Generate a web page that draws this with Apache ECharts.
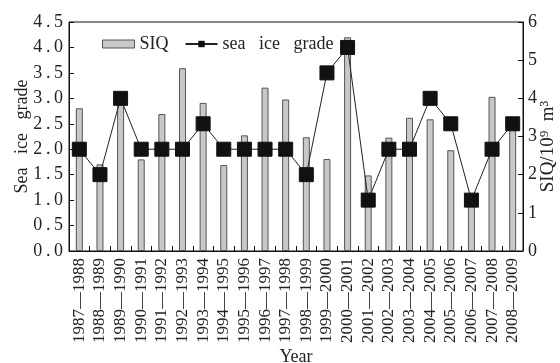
<!DOCTYPE html>
<html>
<head>
<meta charset="utf-8">
<script src="https://cdn.jsdelivr.net/npm/echarts@6/dist/echarts.min.js"></script>
<style>html,body{margin:0;padding:0;background:#fff}#c{width:560px;height:363px}</style>
</head>
<body>
<div id="c"></div>
<script>
const categories = ['1987—1988','1988—1989','1989—1990','1990—1991','1991—1992','1992—1993','1993—1994','1994—1995','1995—1996','1996—1997','1997—1998','1998—1999','1999—2000','2000—2001','2001—2002','2002—2003','2003—2004','2004—2005','2005—2006','2006—2007','2007—2008','2008—2009'];
const siq = [3.74, 2.27, 3.9, 2.4, 3.59, 4.79, 3.88, 2.25, 3.03, 4.28, 3.97, 2.98, 2.41, 5.6, 1.98, 2.97, 3.49, 3.45, 2.64, 1.3, 4.04, 3.3];
const seaIceGrade = [2.0, 1.5, 3.0, 2.0, 2.0, 2.0, 2.5, 2.0, 2.0, 2.0, 2.0, 1.5, 3.5, 4.0, 1.0, 2.0, 2.0, 3.0, 2.5, 1.0, 2.0, 2.5];

const FONT = '"Liberation Serif","DejaVu Serif",serif';
const wide = s => s.replace(/ /g, '   ');
const chart = echarts.init(document.getElementById('c'), null, {renderer: 'canvas'});
chart.setOption({
  animation: false,
  backgroundColor: '#fff',
  textStyle: {fontFamily: FONT, color: '#222'},
  grid: {left: 69, right: 37, top: 22, bottom: 112, show: true, borderColor: '#111', borderWidth: 1, backgroundColor: 'transparent', containLabel: false, outerBoundsMode: 'none'},
  legend: {
    left: 97, top: 30, itemGap: 16, itemWidth: 32, itemHeight: 8,
    textStyle: {fontFamily: FONT, fontSize: 18, color: '#222'},
    formatter: name => wide(name),
    data: [
      {name: 'SIQ', icon: 'rect', itemStyle: {color: '#c8c8c8', borderColor: '#555', borderWidth: 1}},
      {name: 'sea ice grade'}
    ]
  },
  xAxis: {
    type: 'category', data: categories,
    name: 'Year', nameLocation: 'middle', nameGap: 97, nameMoveOverlap: false,
    nameTextStyle: {fontFamily: FONT, fontSize: 18, color: '#222'},
    axisLine: {lineStyle: {color: '#111', width: 1}},
    axisTick: {show: true, inside: true, length: 5, alignWithLabel: false, lineStyle: {color: '#111'}},
    axisLabel: {rotate: 90, interval: 0, fontFamily: FONT, fontSize: 17, color: '#222', margin: 7}
  },
  yAxis: [
    {
      type: 'value', min: 0, max: 4.5, interval: 0.5, position: 'left',
      name: wide('Sea ice grade'), nameLocation: 'middle', nameGap: 38, nameRotate: 90, nameMoveOverlap: false,
      nameTextStyle: {fontFamily: FONT, fontSize: 18, color: '#222'},
      axisLine: {show: true, lineStyle: {color: '#111', width: 1}},
      axisTick: {show: true, inside: true, length: 5, lineStyle: {color: '#111'}},
      splitLine: {show: false},
      axisLabel: {fontFamily: FONT, fontSize: 18, color: '#222', margin: 6, formatter: v => v.toFixed(1).replace('.', '\u2009.\u2009')}
    },
    {
      type: 'value', min: 0, max: 6, interval: 1, position: 'right',
      name: 'SIQ/10⁹  m³', nameLocation: 'middle', nameGap: 16, nameRotate: 90, nameMoveOverlap: false,
      nameTextStyle: {fontFamily: FONT, fontSize: 19, color: '#222', padding: [0, 20, 0, 0]},
      axisLine: {show: true, lineStyle: {color: '#111', width: 1}},
      axisTick: {show: true, inside: true, length: 5, lineStyle: {color: '#111'}},
      splitLine: {show: false},
      axisLabel: {fontFamily: FONT, fontSize: 18, color: '#222', margin: 5}
    }
  ],
  series: [
    {
      name: 'SIQ', type: 'bar', yAxisIndex: 1, data: siq, barWidth: 7,
      itemStyle: {color: '#c8c8c8', borderColor: '#555', borderWidth: 1}
    },
    {
      name: 'sea ice grade', type: 'line', yAxisIndex: 0, data: seaIceGrade,
      symbol: 'rect', symbolSize: 14, z: 5,
      lineStyle: {color: '#222', width: 1},
      itemStyle: {color: '#111', borderColor: '#111'}
    }
  ]
});
</script>
</body>
</html>
